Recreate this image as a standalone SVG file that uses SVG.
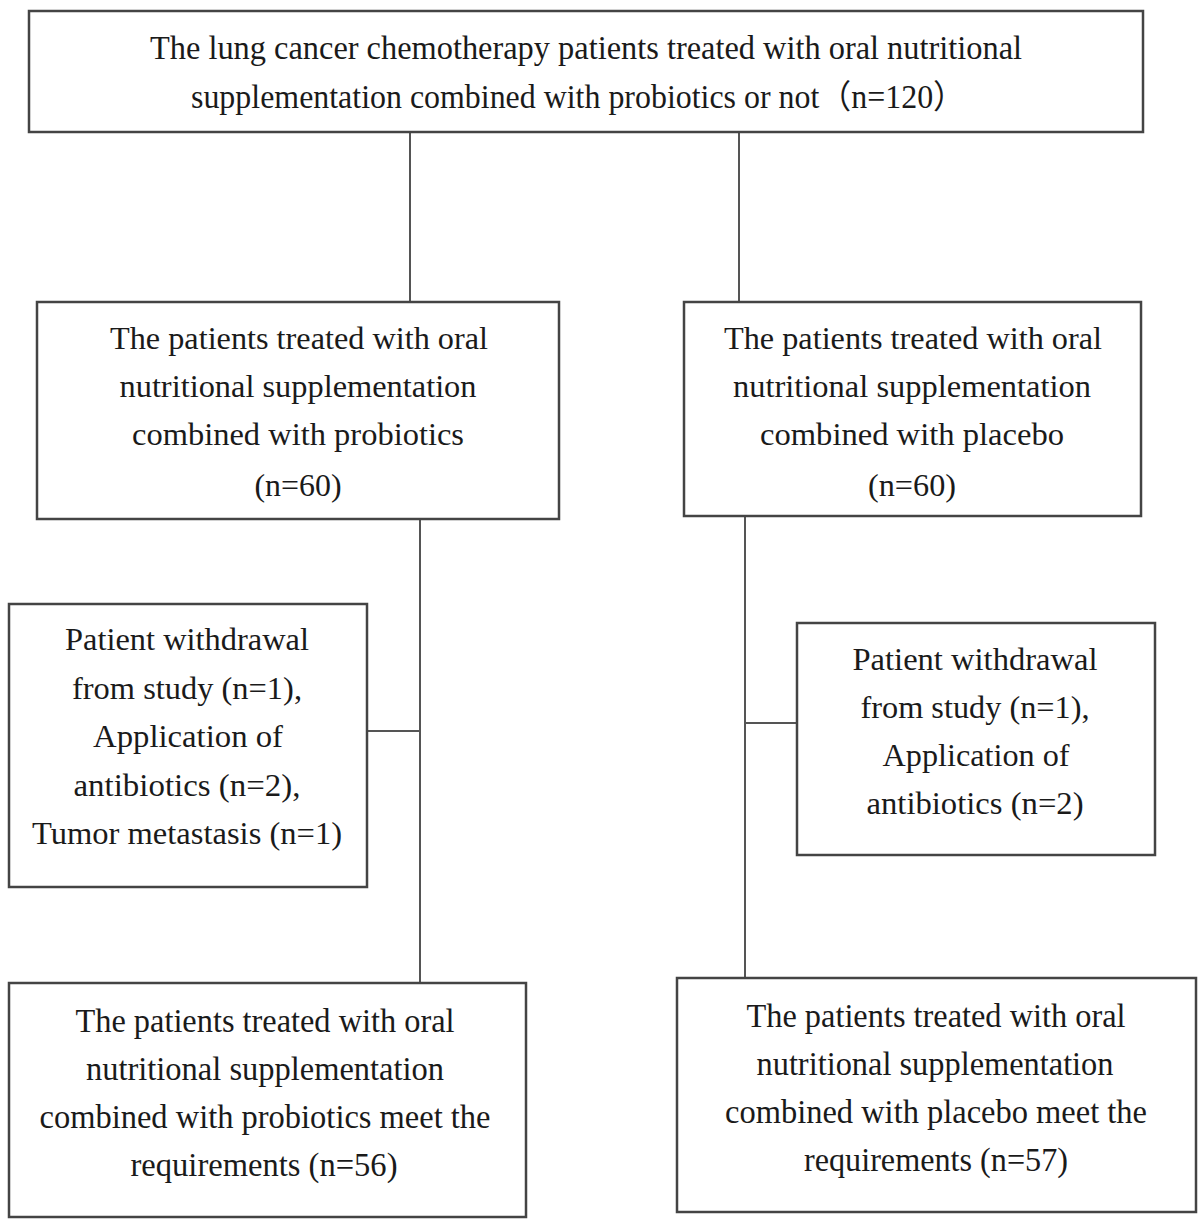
<svg xmlns="http://www.w3.org/2000/svg" width="1200" height="1226" viewBox="0 0 1200 1226">
<style>
.box{fill:#fff;stroke:#444;stroke-width:2.5}
.ln{stroke:#555;stroke-width:2;fill:none}
text{font-family:"Liberation Serif","Times New Roman","Noto Sans CJK SC",serif;font-size:32px;fill:#1a1a1a;text-anchor:middle}
.c{font-size:33px}
</style>
<rect width="1200" height="1226" fill="#fff"/>
<g id="connectors">
<line class="ln" x1="410" y1="132" x2="410" y2="302"/>
<line class="ln" x1="739" y1="132" x2="739" y2="302"/>
<line class="ln" x1="420" y1="519" x2="420" y2="983"/>
<line class="ln" x1="367" y1="731" x2="420" y2="731"/>
<line class="ln" x1="745" y1="516" x2="745" y2="978"/>
<line class="ln" x1="745" y1="723" x2="797" y2="723"/>
</g>
<g id="top">
<rect class="box" x="29" y="11" width="1114" height="121"/>
<text class="c" x="586" y="59" textLength="872" lengthAdjust="spacingAndGlyphs">The lung cancer chemotherapy patients treated with oral nutritional</text>
<text class="c" x="578" y="108" textLength="774" lengthAdjust="spacingAndGlyphs">supplementation combined with probiotics or not（n=120）</text>
</g>
<g id="probiotics">
<rect class="box" x="37" y="302" width="522" height="217"/>
<text x="299" y="349" textLength="378" lengthAdjust="spacingAndGlyphs">The patients treated with oral</text>
<text x="298" y="397" textLength="357" lengthAdjust="spacingAndGlyphs">nutritional supplementation</text>
<text x="298" y="445" textLength="332" lengthAdjust="spacingAndGlyphs">combined with probiotics</text>
<text x="298" y="496" textLength="87" lengthAdjust="spacingAndGlyphs">(n=60)</text>
</g>
<g id="placebo">
<rect class="box" x="684" y="302" width="457" height="214"/>
<text x="913" y="349" textLength="378" lengthAdjust="spacingAndGlyphs">The patients treated with oral</text>
<text x="912" y="397" textLength="358" lengthAdjust="spacingAndGlyphs">nutritional supplementation</text>
<text x="912" y="445" textLength="304" lengthAdjust="spacingAndGlyphs">combined with placebo</text>
<text x="912" y="496" textLength="88" lengthAdjust="spacingAndGlyphs">(n=60)</text>
</g>
<g id="excl-left">
<rect class="box" x="9" y="604" width="358" height="283"/>
<text x="187" y="650" textLength="244" lengthAdjust="spacingAndGlyphs">Patient withdrawal</text>
<text x="187" y="699" textLength="230" lengthAdjust="spacingAndGlyphs">from study (n=1),</text>
<text x="188" y="747" textLength="190" lengthAdjust="spacingAndGlyphs">Application of</text>
<text x="187" y="796" textLength="227" lengthAdjust="spacingAndGlyphs">antibiotics (n=2),</text>
<text x="187" y="844" textLength="310" lengthAdjust="spacingAndGlyphs">Tumor metastasis (n=1)</text>
</g>
<g id="excl-right">
<rect class="box" x="797" y="623" width="358" height="232"/>
<text x="975" y="670" textLength="245" lengthAdjust="spacingAndGlyphs">Patient withdrawal</text>
<text x="975" y="718" textLength="229" lengthAdjust="spacingAndGlyphs">from study (n=1),</text>
<text x="976" y="766" textLength="187" lengthAdjust="spacingAndGlyphs">Application of</text>
<text x="975" y="814" textLength="217" lengthAdjust="spacingAndGlyphs">antibiotics (n=2)</text>
</g>
<g id="final-left">
<rect class="box" x="9" y="983" width="517" height="234"/>
<text class="c" x="265" y="1032" textLength="379" lengthAdjust="spacingAndGlyphs">The patients treated with oral</text>
<text class="c" x="265" y="1080" textLength="358" lengthAdjust="spacingAndGlyphs">nutritional supplementation</text>
<text class="c" x="265" y="1128" textLength="451" lengthAdjust="spacingAndGlyphs">combined with probiotics meet the</text>
<text class="c" x="264" y="1176" textLength="267" lengthAdjust="spacingAndGlyphs">requirements (n=56)</text>
</g>
<g id="final-right">
<rect class="box" x="677" y="978" width="519" height="234"/>
<text class="c" x="936" y="1027" textLength="379" lengthAdjust="spacingAndGlyphs">The patients treated with oral</text>
<text class="c" x="935" y="1075" textLength="357" lengthAdjust="spacingAndGlyphs">nutritional supplementation</text>
<text class="c" x="936" y="1123" textLength="422" lengthAdjust="spacingAndGlyphs">combined with placebo meet the</text>
<text class="c" x="936" y="1171" textLength="264" lengthAdjust="spacingAndGlyphs">requirements (n=57)</text>
</g>
</svg>
